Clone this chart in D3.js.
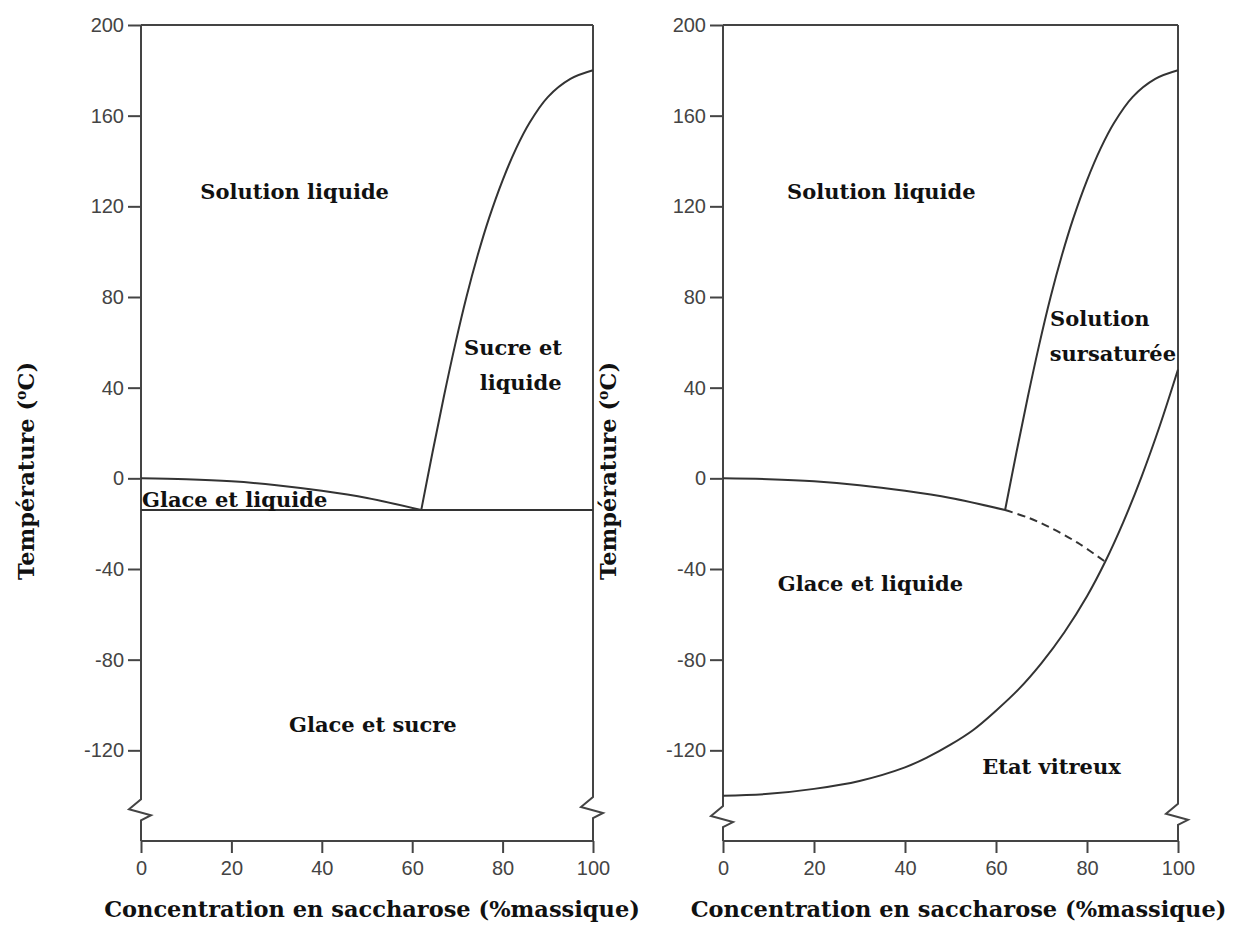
<!DOCTYPE html>
<html lang="fr">
<head>
<meta charset="UTF-8">
<title>Diagramme eau - saccharose</title>
<script src="https://d3js.org/d3.v7.min.js"></script>
<style>
body {margin: 0; background: white;}
svg {display: block; background: white;}
.tick text {font-family: "Liberation Sans", Arial, sans-serif; font-size: 20px; fill: #444;}
.tick line {stroke: #444; stroke-width: 2;}
.lbl {font-family: "DejaVu Serif", serif; font-weight: bold; font-size: 21px; fill: #111;}
.ttl {font-family: "DejaVu Serif", serif; font-weight: bold; font-size: 22.5px; fill: #111;}
.frame {fill: none; stroke: #444; stroke-width: 2;}
.curve {fill: none; stroke: #333; stroke-width: 2;}
</style>
</head>
<body>
<svg width="1251" height="935"></svg>
<script>
// ticks
const xTicks = [0, 20, 40, 60, 80, 100];
const yTicks = [200, 160, 120, 80, 40, 0, -40, -80, -120];

// courbes (% massique, °C)
const iceLiquidus = [[0, 0], [10, -0.4], [20, -1.3], [30, -3], [40, -5.5], [50, -8.7], [62, -14]];
const sugarSolubility = [[62, -14], [64.5, 11.5], [67, 36], [69.5, 59], [72, 80], [74.5, 98.5], [77, 114.8],
                         [80, 131.5], [83, 145.6], [86, 157], [90, 168.2], [95, 176.2], [100, 180]];
const eutecticT = -14;
const iceLiquidusExt = [[62, -14], [67, -17.3], [72, -21.8], [78, -28.5], [84, -36.8]];
const glassTransition = [[0, -140], [10, -139.2], [20, -137], [30, -133.5], [40, -127.5], [45, -123],
                         [50, -117.5], [55, -111], [60, -102.5], [65, -93], [70, -81.5], [75, -68],
                         [80, -52], [84, -36.8], [88, -19.2], [92, 0.8], [96, 23.2], [100, 48]];

const svg = d3.select("svg");
const y = d3.scaleLinear().domain([-160, 200]).range([841, 25]);
const xL = d3.scaleLinear().domain([0, 100]).range([141, 593]);
const xR = d3.scaleLinear().domain([0, 100]).range([723, 1178]);

function zig(x0, yb) {
  return "L" + x0 + "," + (yb - 10) + "L" + (x0 - 12) + "," + yb + "L" + (x0 + 10) + "," + (yb + 6) + "L" + x0 + "," + (yb + 11);
}

function panel(x, breakL, breakR, titleShift) {
  const g = svg.append("g");
  // axes
  g.append("g")
    .attr("transform", "translate(" + x(0) + ",0)")
    .call(d3.axisLeft(y).tickValues(yTicks).tickSize(13).tickPadding(4).tickSizeOuter(0)
      .tickFormat(d => String(d)))
    .call(a => a.select(".domain").remove());
  g.append("g")
    .attr("transform", "translate(0," + y(-160) + ")")
    .call(d3.axisBottom(x).tickValues(xTicks).tickSize(12).tickPadding(8).tickSizeOuter(0))
    .call(a => a.select(".domain").remove());
  // cadre avec coupures
  const x0 = x(0), x1 = x(100);
  g.append("path").attr("class", "frame")
    .attr("d", "M" + x0 + "," + y(200) + "V" + (breakL - 10) + zig(x0, breakL) + "V" + y(-160));
  g.append("path").attr("class", "frame")
    .attr("d", "M" + x1 + "," + y(200) + "V" + (breakR - 10) + zig(x1, breakR) + "V" + y(-160));
  g.append("path").attr("class", "frame")
    .attr("d", "M" + x0 + "," + y(200) + "H" + x1);
  g.append("path").attr("class", "frame")
    .attr("d", "M" + x0 + "," + y(-160) + "H" + x1);
  // titres
  g.append("text").attr("class", "ttl")
    .attr("x", (x0 + x1) / 2 + titleShift).attr("y", 917)
    .attr("text-anchor", "middle")
    .text("Concentration en saccharose (%massique)");
  const t = g.append("text").attr("class", "ttl")
    .attr("text-anchor", "middle")
    .attr("transform", "translate(" + (x0 - 107) + "," + 471 + ") rotate(-90)");
  t.append("tspan").text("Température (");
  t.append("tspan").attr("font-size", 14).attr("dy", -8).text("o");
  t.append("tspan").attr("dy", 8).text("C)");
  return g;
}

const line = d3.line().curve(d3.curveCatmullRom.alpha(0.5));

// ---- panneau gauche
const gL = panel(xL, y(-146), y(-145), 5);
gL.append("path").attr("class", "curve")
  .attr("d", line.x(d => xL(d[0])).y(d => y(d[1]))(iceLiquidus));
gL.append("path").attr("class", "curve")
  .attr("d", line.x(d => xL(d[0])).y(d => y(d[1]))(sugarSolubility));
gL.append("line").attr("class", "curve").attr("stroke-width", 3)
  .attr("x1", xL(0)).attr("x2", xL(100)).attr("y1", y(eutecticT)).attr("y2", y(eutecticT));

function lbl(g, x, yv, txt, anchor) {
  g.append("text").attr("class", "lbl")
    .attr("x", x).attr("y", y(yv)).attr("dy", "0.35em")
    .attr("text-anchor", anchor || "middle").text(txt);
}
lbl(gL, xL(34), 126.6, "Solution liquide");
lbl(gL, xL(82.3), 57.8, "Sucre et");
lbl(gL, xL(84), 42.3, "liquide");
lbl(gL, xL(0) + 1, -9.3, "Glace et liquide", "start");
lbl(gL, xL(51.3), -108.5, "Glace et sucre");

// ---- panneau droit
const gR = panel(xR, y(-149), y(-148), 8);
gR.append("path").attr("class", "curve")
  .attr("d", line.x(d => xR(d[0])).y(d => y(d[1]))(iceLiquidus));
gR.append("path").attr("class", "curve")
  .attr("d", line.x(d => xR(d[0])).y(d => y(d[1]))(sugarSolubility));
gR.append("path").attr("class", "curve").attr("stroke-dasharray", "8,5")
  .attr("d", line.x(d => xR(d[0])).y(d => y(d[1]))(iceLiquidusExt));
gR.append("path").attr("class", "curve")
  .attr("d", line.x(d => xR(d[0])).y(d => y(d[1]))(glassTransition));

lbl(gR, xR(34.8), 126.6, "Solution liquide");
lbl(gR, xR(82.8), 70.6, "Solution");
lbl(gR, xR(85.7), 54.8, "sursaturée");
lbl(gR, xR(32.4), -46.3, "Glace et liquide");
lbl(gR, xR(72.2), -127, "Etat vitreux");
</script>
</body>
</html>
